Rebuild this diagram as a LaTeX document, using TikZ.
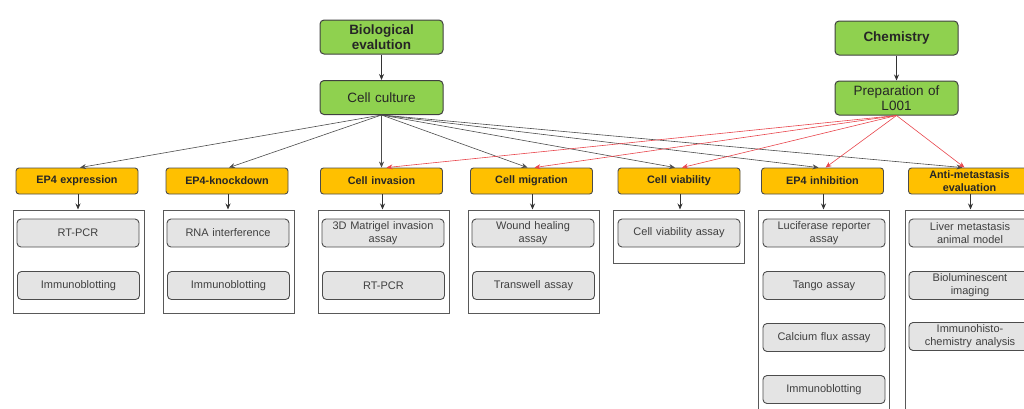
\documentclass[tikz,border=0pt]{standalone}
\usepackage{fontspec}
\setmainfont{Liberation Sans}
\usetikzlibrary{arrows.meta}
\definecolor{grn}{HTML}{8FD14F}
\definecolor{org}{HTML}{FFC000}
\definecolor{gry}{HTML}{E4E4E4}
\definecolor{redl}{HTML}{E8454C}
\begin{document}
\begin{tikzpicture}[x=1pt,y=-1pt,
  greenbox/.style={draw=black!75,line width=1pt,fill=grn,rounded corners=4pt,minimum width=123pt,minimum height=34pt,inner sep=1pt,align=center,text width=118pt,text=black!85,font=\fontsize{13.5}{15}\selectfont},
  orangebox/.style={draw=black!70,line width=0.9pt,fill=org,rounded corners=3pt,minimum width=122pt,minimum height=26pt,inner sep=0pt,align=center,text width=120pt,text=black!85,font=\bfseries\fontsize{10.8}{12.5}\selectfont},
  outerbox/.style={draw=black!65,line width=1pt,fill=white,minimum width=131pt,inner sep=0pt},
  graybox/.style={draw=black!70,line width=0.9pt,fill=gry,rounded corners=4pt,minimum width=122pt,minimum height=28pt,inner sep=0pt,align=center,text width=120pt,text=black!75,font=\fontsize{11}{13}\selectfont},
  arr/.style={-{Stealth[length=6pt,width=5pt]},draw=black!70,line width=0.6pt},
  rarr/.style={-{Stealth[length=6pt,width=5pt]},draw=redl,line width=0.6pt},
  varr/.style={-{Stealth[length=6pt,width=5pt]},draw=black!80,line width=0.8pt}]
\useasboundingbox (0,0) rectangle (1024,408);
\clip (0,0) rectangle (1024,408);
% top green boxes
\node[greenbox,font=\bfseries\fontsize{13.5}{15.5}\selectfont] (bio) at (381.5,37) {Biological\\evalution};
\node[greenbox] (cul) at (381.5,97.5) {Cell culture};
\node[greenbox,font=\bfseries\fontsize{13.5}{15.5}\selectfont] (chem) at (896.5,38) {Chemistry};
\node[greenbox] (prep) at (896.5,98) {Preparation of\\L001};
% orange boxes
\node[orangebox] (expr) at (77,181) {EP4 expression};
\node[orangebox] (knock) at (227,181) {EP4-knockdown};
\node[orangebox] (inv) at (381.5,181) {Cell invasion};
\node[orangebox] (mig) at (531.5,181) {Cell migration};
\node[orangebox] (via) at (679,181) {Cell viability};
\node[orangebox] (inh) at (822.5,181) {EP4 inhibition};
\node[orangebox] (anti) at (969.5,181) {Anti-metastasis\\evaluation};
% outer boxes
\node[outerbox,minimum height=103pt] (oexpr) at (78.5,261.5) {};
\node[outerbox,minimum height=103pt] (oknock) at (228.5,261.5) {};
\node[outerbox,minimum height=103pt] (oinv) at (383.5,261.5) {};
\node[outerbox,minimum height=103pt] (omig) at (533.5,261.5) {};
\node[outerbox,minimum height=53pt] (ovia) at (679,236.5) {};
\node[outerbox,minimum height=210pt] (oinh) at (824,315) {};
\node[outerbox,minimum height=210pt] (oanti) at (970.5,315) {};
% inner boxes
\node[graybox] (e1) at (78,233) {RT-PCR};
\node[graybox] (e2) at (78.5,285.5) {Immunoblotting};
\node[graybox] (k1) at (228,233) {RNA interference};
\node[graybox] (k2) at (228.5,285.5) {Immunoblotting};
\node[graybox] (i1) at (383,233) {3D Matrigel invasion\\assay};
\node[graybox] (i2) at (383.5,285.5) {RT-PCR};
\node[graybox] (m1) at (533,233) {Wound healing\\assay};
\node[graybox] (m2) at (533.5,285.5) {Transwell assay};
\node[graybox] (v1) at (679,233) {Cell viability assay};
\node[graybox] (h1) at (824,233) {Luciferase reporter\\assay};
\node[graybox] (h2) at (824,285.5) {Tango assay};
\node[graybox] (h3) at (824,337.5) {Calcium flux assay};
\node[graybox] (h4) at (824,389.5) {Immunoblotting};
\node[graybox] (a1) at (970,233) {Liver metastasis\\animal model};
\node[graybox] (a2) at (970,285.5) {Bioluminescent\\imaging};
\node[graybox] (a3) at (970,336.5) {Immunohisto-\\chemistry analysis};
% top arrows
\draw[varr] (bio) -- (cul);
\draw[varr] (chem) -- (prep);
% black arrows from culture
\draw[arr] (cul.south) -- ([xshift=3pt]expr.north);
\draw[arr] (cul.south) -- ([xshift=2pt]knock.north);
\draw[arr] (cul.south) -- (inv.north);
\draw[arr] (cul.south) -- ([xshift=-4pt]mig.north);
\draw[arr] (cul.south) -- ([xshift=-4pt]via.north);
\draw[arr] (cul.south) -- ([xshift=-4pt]inh.north);
\draw[arr] (cul.south) -- ([xshift=-7pt]anti.north);
% red arrows from preparation
\draw[rarr] (prep.south) -- ([xshift=5pt]inv.north);
\draw[rarr] (prep.south) -- ([xshift=3pt]mig.north);
\draw[rarr] (prep.south) -- ([xshift=3pt]via.north);
\draw[rarr] (prep.south) -- ([xshift=3pt]inh.north);
\draw[rarr] (prep.south) -- ([xshift=-5pt]anti.north);
% vertical arrows to outer boxes
\foreach \a/\b in {expr/oexpr,knock/oknock,inv/oinv,mig/omig,via/ovia,inh/oinh,anti/oanti}
  \draw[varr] ([xshift=1pt]\a.south) -- ([xshift=1pt]\a.south |- \b.north);
\end{tikzpicture}
\end{document}
